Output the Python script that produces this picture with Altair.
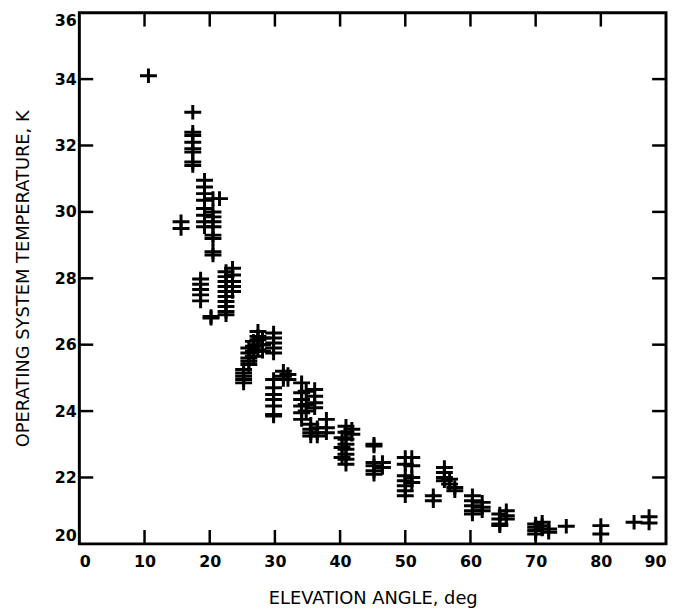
import altair as alt
import pandas as pd

# Elevation angle (deg) and operating system temperature (K)
elevation = [
    10.6,
    17.4, 17.4, 17.4, 17.4, 17.4, 17.4, 17.4, 17.4,
    15.6, 15.6,
    19.2, 19.2, 19.2, 19.2, 19.2, 19.2, 19.2, 19.2,
    20.5, 20.5, 20.5, 20.5, 20.5, 20.5, 20.5, 20.5, 20.5, 21.5,
    18.6, 18.6, 18.6, 18.6, 18.6,
    20.2, 20.2,
    22.5, 22.5, 22.5, 22.5, 22.5, 22.5, 22.5, 22.5, 22.5, 22.5,
    23.5, 23.5, 23.5, 23.5, 23.5,
    25.2, 25.2, 25.2, 25.2, 25.2,
    26.0, 26.0, 26.0, 26.0, 26.0,
    26.7, 26.7, 26.7, 26.7,
    27.4, 27.4, 27.4, 27.4, 27.4,
    28.1, 28.1, 28.1,
    29.8, 29.8, 29.8, 29.8, 29.8,
    29.8, 29.8, 29.8, 29.8, 29.8, 29.8, 29.8,
    31.3, 31.3, 31.3,
    32.0, 32.0,
    34.1, 34.1, 34.1, 34.1, 34.1, 34.1,
    34.8, 34.8, 34.8,
    36.1, 36.1, 36.1, 36.1,
    35.5, 35.5, 35.5, 35.5,
    36.5, 36.5, 36.5,
    37.9, 37.9, 37.9,
    40.9, 40.9, 40.9, 40.9, 40.9, 40.9, 40.9, 40.9,
    40.3, 40.3, 40.3,
    41.8, 41.8,
    45.2, 45.2, 45.2, 45.2, 45.2, 45.2,
    46.5, 46.5,
    50.0, 50.0, 50.0, 50.0, 50.0, 50.0, 50.0,
    51.0, 51.0, 51.0, 51.0,
    54.3, 54.3,
    56.0, 56.0, 56.0, 56.0,
    56.8, 56.8,
    57.6, 57.6,
    60.3, 60.3, 60.3, 60.3, 60.3,
    61.8, 61.8, 61.8,
    64.5, 64.5, 64.5, 64.5,
    65.5, 65.5, 65.5,
    70.0, 70.0, 70.0, 70.0,
    71.0, 71.0, 71.0,
    72.0, 72.0,
    74.7,
    80.0, 80.0,
    85.1,
    87.4, 87.4,
]
temperature = [
    34.1,
    33.0, 32.4, 32.3, 32.1, 31.9, 31.8, 31.5, 31.4,
    29.7, 29.5,
    30.95, 30.75, 30.55, 30.35, 30.1, 29.9, 29.7, 29.55,
    30.4, 30.0, 29.85, 29.7, 29.55, 29.3, 29.2, 28.8, 28.7, 30.4,
    27.98, 27.82, 27.66, 27.5, 27.32,
    26.85, 26.8,
    28.2, 28.05, 27.9, 27.75, 27.6, 27.45, 27.3, 27.15, 27.0, 26.9,
    28.3, 28.1, 27.9, 27.75, 27.6,
    25.25, 25.15, 25.05, 24.95, 24.85,
    25.9, 25.75, 25.6, 25.5, 25.4,
    26.1, 25.95, 25.8, 25.65,
    26.4, 26.25, 26.15, 26.0, 25.85,
    26.2, 26.0, 25.8,
    26.35, 26.2, 26.05, 25.9, 25.75,
    24.95, 24.7, 24.5, 24.35, 24.15, 23.9, 23.85,
    25.2, 25.05, 24.95,
    25.1, 24.95,
    24.85, 24.55, 24.35, 24.15, 23.95, 23.75,
    24.6, 24.2, 24.0,
    24.65, 24.45, 24.25, 24.1,
    23.6, 23.45, 23.35, 23.25,
    23.5, 23.35, 23.25,
    23.75, 23.5, 23.35,
    23.54, 23.36, 23.15, 23.0, 22.85, 22.7, 22.55, 22.4,
    23.2, 22.9, 22.6,
    23.45, 23.3,
    23.0, 22.95, 22.45, 22.35, 22.2, 22.1,
    22.45, 22.3,
    22.6, 22.4, 22.05, 21.9, 21.75, 21.6, 21.45,
    22.6, 22.35, 22.0, 21.85,
    21.45, 21.3,
    22.3, 22.15, 22.0, 21.9,
    21.95, 21.8,
    21.7, 21.6,
    21.45, 21.3, 21.15, 21.0, 20.9,
    21.25, 21.1, 21.0,
    20.9, 20.75, 20.6, 20.55,
    21.0, 20.85, 20.75,
    20.6, 20.5, 20.4, 20.3,
    20.65, 20.55, 20.45,
    20.45, 20.35,
    20.53,
    20.55, 20.3,
    20.65,
    20.82, 20.63,
]

x_ticks = [0, 10, 20, 30, 40, 50, 60, 70, 80, 90]
y_ticks = [20, 22, 24, 26, 28, 30, 32, 34, 36]
x_inner_ticks = [10, 20, 30, 40, 50, 60, 70, 80]
y_inner_ticks = [22, 24, 26, 28, 30, 32, 34]

W, H = 592, 536
TICK = 14
FONT = "DejaVu Sans"
X_TITLE = "ELEVATION ANGLE, deg"
Y_TITLE = "OPERATING SYSTEM TEMPERATURE, K"

pts = pd.DataFrame({"elev": elevation, "temp": temperature})
xt = pd.DataFrame({"v": x_inner_ticks})
yt = pd.DataFrame({"v": y_inner_ticks})

xscale = alt.Scale(domain=[0, 90], nice=False, zero=False)
yscale = alt.Scale(domain=[20, 36], nice=False, zero=False)

plus = "M-1.1,0H1.1M0,-0.95V0.95"

points = alt.Chart(pts).mark_point(
    shape=plus, filled=False, size=240, strokeWidth=3, color="black", opacity=1
).encode(
    x=alt.X("elev:Q", scale=xscale, title=X_TITLE,
            axis=alt.Axis(values=x_ticks, labelFlush=True, ticks=False, domain=False,
                          grid=False, labelPadding=10, titlePadding=20,
                          labelFontSize=16, labelFontWeight="bold", labelFont=FONT,
                          labelColor="black", titleFont=FONT, titleFontSize=18,
                          titleFontWeight="normal", titleColor="black")),
    y=alt.Y("temp:Q", scale=yscale, title=Y_TITLE,
            axis=alt.Axis(values=y_ticks, labelFlush=True, ticks=False, domain=False,
                          grid=False, labelPadding=3, titlePadding=22,
                          labelFontSize=16, labelFontWeight="bold", labelFont=FONT,
                          labelColor="black", titleFont=FONT, titleFontSize=18,
                          titleFontWeight="normal", titleColor="black")),
)

left_ticks = alt.Chart(yt).mark_rule(color="black", strokeWidth=2.5).encode(
    y=alt.Y("v:Q", scale=yscale, title=Y_TITLE), x=alt.value(0), x2=alt.value(TICK))
right_ticks = alt.Chart(yt).mark_rule(color="black", strokeWidth=2.5).encode(
    y=alt.Y("v:Q", scale=yscale, title=Y_TITLE), x=alt.value(W - TICK), x2=alt.value(W))
bottom_ticks = alt.Chart(xt).mark_rule(color="black", strokeWidth=2.5).encode(
    x=alt.X("v:Q", scale=xscale, title=X_TITLE), y=alt.value(H - TICK), y2=alt.value(H))
top_ticks = alt.Chart(xt).mark_rule(color="black", strokeWidth=2.5).encode(
    x=alt.X("v:Q", scale=xscale, title=X_TITLE), y=alt.value(0), y2=alt.value(TICK))

chart = alt.layer(points, left_ticks, right_ticks, bottom_ticks, top_ticks).properties(
    width=W, height=H,
    background="white",
    padding={"left": 72, "top": 2, "right": 2, "bottom": 66},
    autosize=alt.AutoSizeParams(type="none"),
).configure_view(stroke="black", strokeWidth=3)

chart.save("out.html", embed_options={"renderer": "svg", "actions": False})
